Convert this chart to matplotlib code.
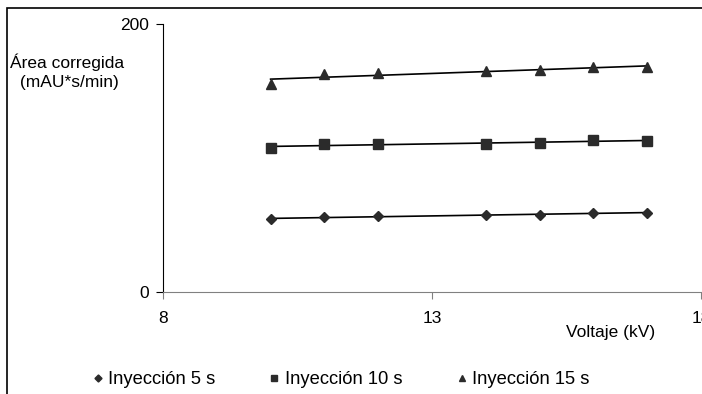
import numpy as np
import matplotlib
matplotlib.use('Agg')
from matplotlib import pyplot as plt
from matplotlib.patches import Rectangle

plt.rcParams['font.family'] = ['Liberation Sans', 'DejaVu Sans']
plt.rcParams['font.size'] = 12.5

# data
voltaje = [10, 11, 12, 14, 15, 16, 17]
iny_5 = [54.3, 56.2, 56.5, 57.2, 57.4, 59.2, 59.2]
iny_10 = [107.7, 110.2, 110.4, 110.6, 111.4, 113.4, 112.6]
iny_15 = [155.5, 162.5, 163.5, 164.8, 165.8, 167.6, 167.6]
series = [
    ("Inyección 5 s", iny_5, 'D', 5.5),
    ("Inyección 10 s", iny_10, 's', 6.5),
    ("Inyección 15 s", iny_15, '^', 7.5),
]

fig = plt.figure(figsize=(7.02, 3.94), dpi=100)
fig.patches.append(Rectangle((7 / 702, -0.1), 1.2, 1 - 8 / 394 + 0.1,
                             transform=fig.transFigure, fill=False,
                             edgecolor='black', linewidth=1.2))

ax = fig.add_axes([163 / 702, 1 - 292 / 394, (701 - 163) / 702, 268 / 394])

x = np.array(voltaje)
for label, ys, mk, ms in series:
    ax.plot(x, ys, linestyle='none', marker=mk, markersize=ms,
            color='#2b2b2b', label=label, clip_on=False, zorder=3)
    k, b = np.polyfit(x, ys, 1)
    ax.plot(x, k * x + b, color='black', linewidth=1.2, zorder=2)

ax.set_xlim(8, 18)
ax.set_ylim(0, 200)
ax.set_xticks([8, 13, 18])
ax.set_yticks([0, 200])
ax.spines['top'].set_visible(False)
ax.spines['right'].set_visible(False)
ax.spines['bottom'].set_color('#808080')
ax.spines['left'].set_color('black')
ax.tick_params(axis='x', direction='out', length=5, color='#808080', pad=9)
ax.tick_params(axis='y', direction='out', length=5, color='black', pad=5)

fig.text(67 / 702, 1 - 72 / 394, "Área corregida\n (mAU*s/min)",
         ha='center', va='center', fontsize=12.5, linespacing=1.3)
fig.text(611 / 702, 1 - 333 / 394, "Voltaje (kV)", ha='center', va='center',
         fontsize=12.5)

fig.legend(loc='center', bbox_to_anchor=(341 / 702, 1 - 380 / 394), ncol=3,
           frameon=False, markerscale=0.65, handlelength=0.5,
           handletextpad=0.3, columnspacing=3.0, fontsize=13.2)

fig.savefig('out.png', dpi=100)
